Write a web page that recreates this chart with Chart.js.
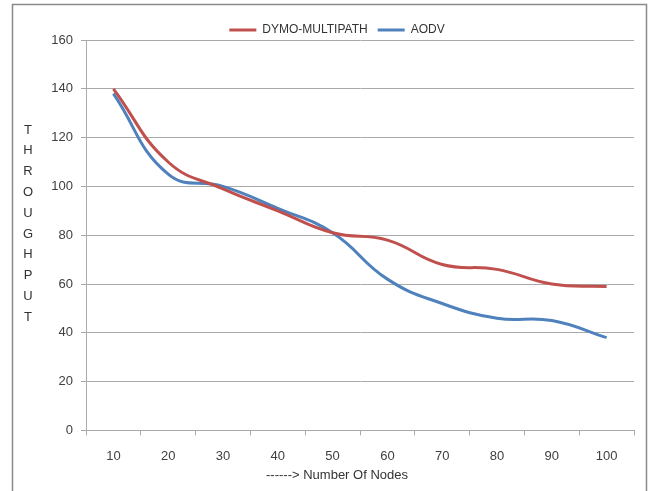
<!DOCTYPE html>
<html>
<head>
<meta charset="utf-8">
<script src="https://cdn.jsdelivr.net/npm/chart.js@4.4.1/dist/chart.umd.min.js"></script>
<style>
  html, body { margin: 0; padding: 0; background: #fff; }
  #wrap { position: relative; width: 650px; height: 491px; }
</style>
</head>
<body>
<div id="wrap"><canvas id="throughput" width="650" height="491"></canvas></div>
<script>
const nodes = ['10', '20', '30', '40', '50', '60', '70', '80', '90', '100'];
const dymoMultipath = [140, 110, 99, 90, 81, 78, 68, 66, 60, 59];
const aodv = [138, 105, 100, 91, 81, 62, 52, 46, 45, 38];
const yTitle = ['T', 'H', 'R', 'O', 'U', 'G', 'H', 'P', 'U', 'T'];

const fontFamily = "'Liberation Sans Narrow', 'Liberation Sans', sans-serif";
const gridColor = '#aaaaaa';

// frame round the chart + vertical letters of the y title
const framePlugin = {
    id: 'frame',
    beforeDraw(chart) {
        const c = chart.ctx;
        c.save();
        c.fillStyle = '#fff';
        c.fillRect(0, 0, chart.width, chart.height);
        c.strokeStyle = '#8a8a8a';
        c.lineWidth = 1.5;
        c.strokeRect(12.5, 4.5, 634, 500);
        c.restore();
    },
    afterDraw(chart) {
        const c = chart.ctx;
        c.save();
        c.fillStyle = '#333';
        c.font = '13px ' + fontFamily;
        c.textAlign = 'center';
        c.textBaseline = 'middle';
        yTitle.forEach((ch, i) => c.fillText(ch, 28, 130 + i * 20.8));
        c.restore();
    }
};

const ctx = document.getElementById('throughput');

new Chart(ctx, {
    type: 'line',
    data: {
        labels: nodes,
        datasets: [{
                label: 'DYMO-MULTIPATH',
                data: dymoMultipath,
                borderColor: '#C0504D',
                backgroundColor: '#C0504D',
                borderWidth: 3,
                pointRadius: 0,
                pointStyle: 'line',
                tension: 0.45
            },
            {
                label: 'AODV',
                data: aodv,
                borderColor: '#4F81BD',
                backgroundColor: '#4F81BD',
                borderWidth: 3,
                pointRadius: 0,
                pointStyle: 'line',
                tension: 0.45
            }]
    },
    options: {
        responsive: false,
        animation: false,
        layout: {
            padding: { left: 40, right: 16, top: 14, bottom: 8 }
        },
        plugins: {
            legend: {
                position: 'top',
                maxHeight: 26,
                labels: {
                    usePointStyle: true,
                    pointStyleWidth: 27,
                    boxHeight: 12,
                    padding: 10,
                    color: '#333',
                    font: { family: fontFamily, size: 12 }
                }
            },
            title: {
                display: true,
                position: 'bottom',
                text: '------> Number Of Nodes',
                color: '#333',
                font: { family: fontFamily, size: 13, weight: 'normal' },
                padding: { top: 0, bottom: 0 }
            },
            tooltip: { enabled: false }
        },
        scales: {
            x: {
                offset: true,
                afterFit(scale) { scale.height = 37; },
                grid: {
                    offset: true,
                    drawOnChartArea: false,
                    drawTicks: true,
                    tickLength: 5,
                    color: gridColor
                },
                border: { color: gridColor },
                ticks: {
                    color: '#404040',
                    padding: 13,
                    font: { family: fontFamily, size: 13 }
                }
            },
            y: {
                min: 0,
                max: 160,
                afterFit(scale) { scale.width = 46; },
                grid: {
                    color: gridColor,
                    tickLength: 5
                },
                border: { color: gridColor },
                ticks: {
                    stepSize: 20,
                    color: '#404040',
                    padding: 8,
                    font: { family: fontFamily, size: 13 }
                }
            }
        }
    },
    plugins: [framePlugin]
});
</script>
</body>
</html>
